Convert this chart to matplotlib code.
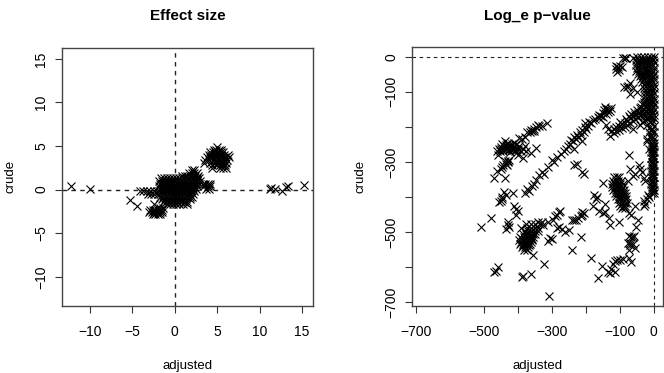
import matplotlib
matplotlib.use("Agg")
import matplotlib.pyplot as plt

plt.rcParams["font.family"] = ["Liberation Sans", "DejaVu Sans"]

# effect size panel: (adjusted, crude) for single marks
effect_outliers = [(-12.2, 0.45), (-10.0, 0.1), (-5.3, -1.2), (-4.4, -1.9), (-2.5, -1.7),
                   (11.2, 0.1), (11.4, 0.15), (11.8, 0.1), (12.6, -0.15), (13.1, 0.3),
                   (13.3, 0.45), (15.2, 0.5)]
# dense clouds, one row per crude value: (crude, [adjusted, ...])
effect_body = [
    (2.2, [2.0, 2.3]),
    (1.9, [1.7, 2.0, 2.3, 2.6]),
    (1.6, [0.9, 1.2, 1.5, 1.8, 2.1, 2.4, 2.7]),
    (1.3, [-1.6, -1.25, -0.9, -0.55, -0.2, 0.15, 0.5, 0.85, 1.2, 1.55, 1.9, 2.25, 2.6, 2.9]),
    (1.0, [-1.9, -1.55, -1.2, -0.85, -0.5, -0.15, 0.2, 0.55, 0.9, 1.25, 1.6, 1.95, 2.3, 2.65, 3.0]),
    (0.7, [-1.75, -1.4, -1.05, -0.7, -0.35, 0.0, 0.35, 0.7, 1.05, 1.4, 1.75, 2.1, 2.45, 2.8, 3.3, 3.6, 3.9, 4.1]),
    (0.4, [-1.9, -1.55, -1.2, -0.85, -0.5, -0.15, 0.2, 0.55, 0.9, 1.25, 1.6, 1.95, 2.3, 2.65, 3.5, 3.9, 4.2]),
    (0.1, [-1.75, -1.4, -1.05, -0.7, -0.35, 0.0, 0.35, 0.7, 1.05, 1.4, 1.75, 2.1, 2.45, 3.7, 4.0]),
    (-0.2, [-4.1, -3.7, -3.3, -2.9, -2.5, -2.1, -1.9, -1.55, -1.2, -0.85, -0.5, -0.15, 0.2, 0.55, 0.9, 1.25, 1.6, 1.95, 2.3]),
    (-0.5, [-3.2, -2.8, -2.4, -2.0, -1.7, -1.35, -1.0, -0.65, -0.3, 0.05, 0.4, 0.75, 1.1, 1.45, 1.8, 2.1]),
    (-0.8, [-1.7, -1.35, -1.0, -0.65, -0.3, 0.05, 0.4, 0.75, 1.1, 1.45, 1.8, 2.0]),
    (-1.1, [-1.5, -1.15, -0.8, -0.45, -0.1, 0.25, 0.6, 0.95, 1.3, 1.8]),
    (-1.4, [-1.4, -1.0, -0.65, -0.3, 0.05, 0.4, 0.75, 1.1, 1.5]),
    (-1.7, [-0.9, -0.55, -0.2, 0.15, 0.5, 1.0, 1.5]),
]
effect_lower = [
    (-2.1, [-2.0, -1.7, -1.4]),
    (-2.3, [-2.9, -2.6, -2.3, -2.0, -1.7, -1.5]),
    (-2.6, [-3.0, -2.7, -2.4, -2.1, -1.8, -1.55]),
    (-2.85, [-2.6, -2.3, -2.0, -1.7]),
]
effect_upper = [
    (4.9, [5.0]),
    (4.6, [4.6, 4.9, 5.2, 5.5]),
    (4.3, [4.2, 4.5, 4.8, 5.1, 5.4, 5.7]),
    (4.0, [4.0, 4.3, 4.6, 4.9, 5.2, 5.5, 5.8, 6.3]),
    (3.7, [3.8, 4.1, 4.4, 4.7, 5.0, 5.3, 5.6, 5.9, 6.4]),
    (3.4, [3.6, 4.0, 4.6, 4.9, 5.2, 5.5, 5.8, 6.1]),
    (3.1, [3.5, 4.1, 4.8, 5.1, 5.4, 5.7, 6.0]),
    (2.8, [4.4, 5.0, 5.3, 5.6, 5.9]),
    (2.5, [4.4, 5.3, 5.7, 6.0]),
]

# log p-value panel: (adjusted, crude)
logp_band_a = [(-315, -188), (-330, -197), (-338, -198), (-345, -200), (-352, -205), (-358, -213),
               (-365, -215), (-372, -215), (-380, -228), (-388, -235), (-395, -232), (-405, -250),
               (-412, -245), (-420, -255), (-428, -245), (-432, -250), (-438, -240), (-440, -255),
               (-445, -250), (-450, -262), (-455, -262), (-460, -270), (-458, -280), (-435, -265),
               (-425, -265), (-415, -265), (-405, -262), (-395, -255), (-390, -270), (-385, -262),
               (-380, -255), (-375, -270), (-400, -280), (-385, -290), (-360, -275), (-345, -260),
               (-448, -258), (-442, -268), (-432, -258), (-422, -272), (-412, -256), (-402, -272),
               (-436, -252), (-428, -258), (-418, -262), (-408, -268), (-398, -262), (-444, -262),
               (-452, -270), (-426, -252), (-416, -250), (-352, -212), (-362, -208), (-342, -194),
               (-430, -300), (-435, -305), (-442, -310), (-445, -315), (-438, -298), (-425, -295),
               (-432, -308), (-428, -298), (-450, -320), (-460, -325), (-470, -345), (-437, -345)]
logp_left = [(-440, -385), (-435, -395), (-445, -400), (-450, -410), (-455, -415), (-447, -405),
             (-415, -390), (-410, -425), (-405, -435), (-400, -440), (-405, -450), (-430, -470),
             (-435, -490), (-425, -485), (-430, -480), (-480, -460), (-507, -485),
             (-470, -615), (-458, -600), (-465, -610), (-386, -625), (-388, -627), (-360, -620),
             (-323, -592), (-308, -683)]
logp_band_b = [(-378, -388), (-372, -378), (-366, -382), (-358, -368), (-352, -362), (-345, -352),
               (-339, -337), (-330, -328), (-322, -335), (-312, -315), (-299, -294), (-293, -300),
               (-284, -285), (-274, -278), (-265, -268), (-258, -262), (-252, -255), (-246, -250),
               (-244, -237), (-238, -240), (-234, -228), (-230, -235), (-226, -222), (-222, -228),
               (-218, -215), (-214, -222), (-210, -208), (-206, -214), (-202, -200), (-198, -206),
               (-210, -240), (-235, -262), (-201, -190), (-194, -196), (-190, -186), (-184, -190),
               (-178, -180), (-172, -178), (-165, -172), (-162, -166), (-156, -168), (-150, -160),
               (-146, -152), (-140, -150), (-135, -148), (-160, -176), (-150, -172), (-140, -162),
               (-130, -155), (-127, -145), (-134, -158), (-144, -144)]
logp_band_c = [(-142, -195), (-135, -205), (-128, -225), (-125, -212), (-118, -205), (-118, -218),
               (-110, -200), (-110, -212), (-102, -197), (-102, -208), (-94, -192), (-94, -204),
               (-86, -188), (-86, -199), (-78, -182), (-78, -194), (-70, -176), (-70, -188),
               (-62, -170), (-62, -182), (-54, -165), (-54, -177), (-46, -160), (-46, -172),
               (-38, -155), (-38, -167), (-30, -150), (-30, -162), (-22, -155), (-14, -160),
               (-6, -160), (-14, -172), (-98, -186), (-82, -178), (-66, -162), (-50, -152),
               (-42, -146), (-58, -158), (-74, -170), (-22, -168), (-6, -172), (0, -165)]
# one row per crude value: (crude, [adjusted, ...])
logp_block = [
    (0, [-48, -38, -28, -18, -8, 0]),
    (-8, [-53, -43, -33, -23, -13, -3]),
    (-16, [-50, -40, -30, -20, -10, 0]),
    (-24, [-53, -43, -33, -23, -13, -3]),
    (-32, [-50, -40, -30, -20, -10, 0]),
    (-40, [-52, -44, -33, -23, -13, -3]),
    (-48, [-46, -38, -28, -18, -8, 0]),
    (-56, [-42, -33, -23, -13, -3]),
    (-64, [-38, -28, -18, -8, 0]),
    (-72, [-34, -23, -13, -3]),
    (-80, [-30, -20, -10, 0]),
    (-88, [-28, -18, -8, 0]),
    (-96, [-25, -15, -5]),
    (-104, [-25, -18, -8, 0]),
    (-112, [-25, -15, -5]),
    (-120, [-26, -18, -8, 0]),
    (-128, [-30, -23, -13, -3]),
    (-136, [-35, -28, -18, -8, 0]),
    (-144, [-38, -23, -13, -3]),
    (-152, [-18, -8, 0]),
]
logp_top_scatter = [(-82, -2), (-86, -2), (-90, -2), (-62, -3), (-112, -35), (-105, -30),
                    (-100, -25), (-108, -42), (-95, -30), (-110, -25), (-103, -38),
                    (-80, -85), (-88, -85), (-70, -75), (-75, -82), (-60, -90), (-70, -105),
                    (-50, -100)]
logp_right_col = [(-35, -185), (-25, -180), (-20, -195), (-10, -170), (-5, -190), (0, -175),
                  (-60, -205), (-15, -215), (-8, -225), (-2, -230), (0, -215), (-20, -235),
                  (-5, -205), (-12, -200), (-5, -180), (-5, -215), (-12, -185), (-28, -170),
                  (-18, -178), (0, -198), (-8, -210), (-3, -238), (-12, -228), (-40, -195),
                  (-72, -280), (-70, -320), (-60, -340), (-45, -310), (-40, -320), (-35, -330),
                  (-30, -345), (-25, -355), (-55, -335), (-20, -240), (-15, -262), (-18, -395),
                  (-20, -405), (-25, -420), (-15, -400), (-30, -410), (-28, -425)]
logp_col_rows = [
    (-245, [-5, 0]),
    (-254, [-8, -3, 0]),
    (-263, [-6, -1]),
    (-272, [-8, -3, 0]),
    (-281, [-6, -1]),
    (-290, [-8, -3, 0]),
    (-299, [-6, -1]),
    (-308, [-8, -3, 0]),
    (-317, [-6, -1]),
    (-326, [-8, -3, 0]),
    (-335, [-6, -1]),
    (-344, [-8, -3, 0]),
    (-353, [-6, -1]),
    (-362, [-8, -3, 0]),
    (-371, [-6, -1]),
    (-380, [-8, -3, 0]),
    (-390, [-5, 0]),
]
logp_cluster_d = [
    (-344, [-116, -108, -101]),
    (-353, [-120, -112, -104, -96]),
    (-362, [-122, -114, -106, -98, -91]),
    (-371, [-123, -115, -107, -99, -92]),
    (-380, [-120, -112, -104, -96, -88]),
    (-389, [-115, -107, -99, -91, -85]),
    (-398, [-111, -103, -95, -87, -82]),
    (-407, [-106, -98, -90, -82]),
    (-416, [-102, -94, -86, -79]),
    (-425, [-100, -92, -84]),
    (-432, [-94, -86]),
]
logp_d_scatter = [(-148, -361), (-75, -355), (-68, -450), (-55, -425), (-128, -480), (-103, -470),
                  (-133, -461), (-143, -442), (-73, -446)]
logp_mid = [(-175, -395), (-170, -405), (-168, -400), (-178, -425), (-160, -440), (-150, -445),
            (-145, -420), (-47, -466), (-52, -485), (-210, -330), (-205, -335), (-225, -305),
            (-235, -310), (-205, -445), (-210, -450), (-215, -455), (-212, -442), (-222, -460),
            (-228, -465), (-236, -466), (-240, -465), (-275, -440), (-280, -442), (-285, -450),
            (-290, -455), (-295, -465), (-285, -489), (-278, -485), (-270, -490),
            (-260, -499), (-250, -495), (-305, -518), (-310, -525), (-298, -520),
            (-215, -513), (-241, -551), (-312, -470), (-325, -480)]
logp_cluster_e = [
    (-470, [-340, -330]),
    (-478, [-375, -362, -350, -335]),
    (-488, [-390, -372, -360, -350, -342]),
    (-497, [-380, -370, -360, -350, -342]),
    (-506, [-385, -376, -366, -356, -348]),
    (-515, [-392, -382, -372, -362, -354]),
    (-520, [-388, -378, -368, -358]),
    (-524, [-396, -386, -376, -366, -358]),
    (-529, [-390, -380, -370, -362]),
    (-533, [-392, -384, -374, -364]),
    (-538, [-386, -376, -368]),
    (-542, [-388, -378, -370]),
    (-551, [-382, -374]),
    (-565, [-355]),
]
logp_lower_right = [(-62, -515), (-72, -510), (-58, -510), (-68, -513), (-70, -530), (-60, -535),
                    (-75, -530), (-70, -537), (-55, -545), (-72, -550), (-73, -575), (-68, -585),
                    (-92, -578), (-98, -580), (-108, -580), (-113, -584), (-120, -592), (-125, -605),
                    (-135, -615), (-128, -618), (-115, -615), (-165, -630), (-153, -598), (-186, -575)]

EFFECT_TICKS = [-10, -5, 0, 5, 10, 15]
LOGP_TICKS = [-700, -600, -500, -400, -300, -200, -100, 0]
LOGP_LABELS = ["\u2212700", "", "\u2212500", "", "\u2212300", "", "\u2212100", "0"]


def tick_text(v):
    return str(v).replace("-", "\u2212")


def flatten(rows):
    return [(x, y) for y, xs in rows for x in xs]


def draw_panel(ax, points, title, dash_lw):
    xs = [p[0] for p in points]
    ys = [p[1] for p in points]
    ax.axhline(0, color="#222222", lw=dash_lw, dashes=(3.2, 3.2), zorder=1)
    ax.axvline(0, color="#222222", lw=dash_lw, dashes=(3.2, 3.2), zorder=1)
    ax.plot(xs, ys, ls="none", marker="x", ms=6, mew=0.8, color="black", zorder=2)
    ax.set_xlabel("adjusted", fontsize=9.5, labelpad=14.5)
    ax.set_ylabel("crude", fontsize=9.5, labelpad=13)
    ax.tick_params(length=5, width=0.8, color="#333333", labelsize=10, pad=5)
    ax.tick_params(axis="x", pad=9)
    for label in ax.get_yticklabels():
        label.set_rotation(90)
        label.set_va("center")
    for s in ax.spines.values():
        s.set_color("#444444")
        s.set_linewidth(1.0)
    pos = ax.get_position()
    ax.figure.text((pos.x0 + pos.x1) / 2, 0.958, title,
                   fontsize=11, fontweight="bold", ha="center", va="center")


fig = plt.figure(figsize=(6.64, 3.73), dpi=100)
W, H = 664.0, 373.0
ax1 = fig.add_axes([62 / W, 1 - 306 / H, 251 / W, 258.5 / H])
ax2 = fig.add_axes([412 / W, 1 - 306 / H, 251 / W, 259 / H])

ax1.set_xlim(-13.3, 16.3)
ax1.set_ylim(-13.35, 16.3)
ax1.set_xticks(EFFECT_TICKS, [tick_text(v) for v in EFFECT_TICKS])
ax1.set_yticks(EFFECT_TICKS, [tick_text(v) for v in EFFECT_TICKS])
effect_points = effect_outliers + flatten(effect_body) + flatten(effect_lower) + flatten(effect_upper)
draw_panel(ax1, effect_points, "Effect size", 1.0)

ax2.set_xlim(-711, 27)
ax2.set_ylim(-711, 28)
ax2.set_xticks(LOGP_TICKS, LOGP_LABELS)
ax2.set_yticks(LOGP_TICKS, LOGP_LABELS)
logp_points = (logp_band_a + logp_left + logp_band_b + logp_band_c + flatten(logp_block)
               + logp_top_scatter + logp_right_col + flatten(logp_col_rows) + flatten(logp_cluster_d)
               + logp_d_scatter + logp_mid + flatten(logp_cluster_e) + logp_lower_right)
draw_panel(ax2, logp_points, "Log_e p\u2212value", 0.8)

fig.savefig("out.png", dpi=100)
